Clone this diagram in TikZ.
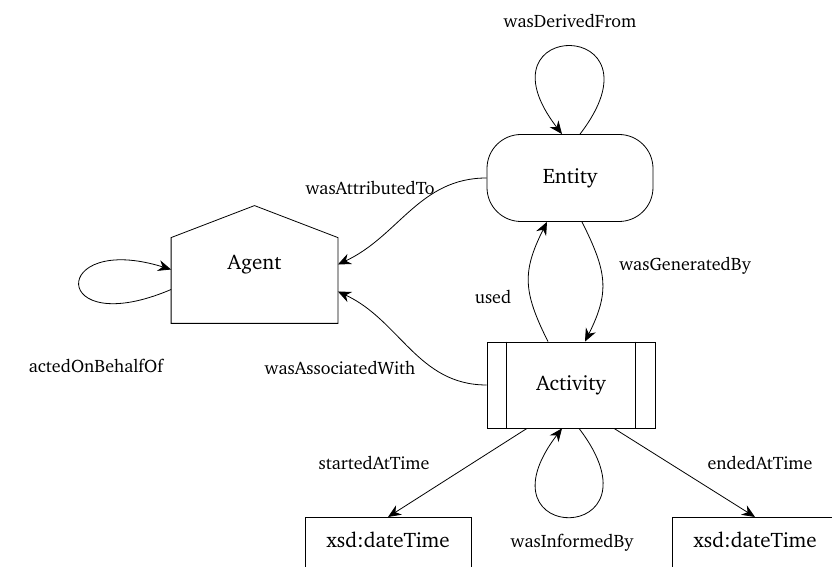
\documentclass[tikz,border=0pt]{standalone}
\usepackage[T1]{fontenc}
\usepackage{charter}
\usetikzlibrary{arrows.meta,calc}
\tikzset{
  flow/.style={-{Stealth[length=6.5pt,width=5.5pt]}},
  entitybox/.style={draw, rounded corners=17pt, minimum width=83pt, minimum height=43.5pt, font=\fontsize{10.5}{12}\selectfont},
  agentbox/.style={minimum width=83pt, minimum height=58.5pt, font=\fontsize{10.5}{12}\selectfont},
  activitybox/.style={draw, minimum width=84pt, minimum height=43pt, font=\fontsize{10.5}{12}\selectfont},
  timebox/.style={draw, anchor=north, minimum width=83pt, inner ysep=3.3pt, text height=11.9pt, text depth=20pt, font=\fontsize{10.5}{12}\selectfont},
  rel/.style={font=\fontsize{9}{11}\selectfont}
}
\begin{document}
\begin{tikzpicture}[x=0.5pt,y=0.5pt]
\useasboundingbox (0,0) rectangle (832,567);
\clip (0,0) rectangle (832,567);

\node[entitybox] (entity) at (570,389) {Entity};
\node[agentbox] (agent) at (254.5,302.5) {Agent};
\draw (agent.south west) -- ($(agent.north west)+(0,-32)$) -- (agent.north)
      -- ($(agent.north east)+(0,-32)$) -- (agent.south east) -- cycle;
\node[activitybox] (activity) at (571,182) {Activity};
\draw ([xshift=10pt]activity.north west) -- ([xshift=10pt]activity.south west);
\draw ([xshift=-10pt]activity.north east) -- ([xshift=-10pt]activity.south east);
\node[timebox] (dtstart) at (388,50) {xsd:dateTime};
\node[timebox] (dtend) at (755,50) {xsd:dateTime};

\draw[flow] ($(entity.north)+(10,0)$) .. controls +(90,117) and +(-90,117) .. ($(entity.north)+(-8,0)$);
\draw[flow] (entity.west) to[out=180,in=25] (agent.east);
\draw[flow] ($(entity.south)+(12,0)$) .. controls +(25,-50) and +(25,50) .. ($(activity.north)+(14,0)$);
\draw[flow] ($(activity.north)+(-23,0)$) .. controls +(-25,50) and +(-25,-50) .. ($(entity.south)+(-23,0)$);
\draw[flow] (activity.west) to[out=180,in=-25] ($(agent.east)+(0,-27)$);
\draw[flow] ($(agent.west)+(0,-25)$) .. controls +(-122,-52) and +(-122,38) .. ($(agent.west)+(0,-5)$);
\draw[flow] ($(activity.south)+(-44,0)$) -- (dtstart.north);
\draw[flow] ($(activity.south)+(43,0)$) -- (dtend.north);
\draw[flow] ($(activity.south)+(8,0)$) .. controls +(90,-118) and +(-90,-118) .. ($(activity.south)+(-9,0)$);

\node[rel] (lderived) at (570,546) {wasDerivedFrom};
\node[rel] (lattributed) at (370,379) {wasAttributedTo};
\node[rel] (lgenerated) at (685,301) {wasGeneratedBy};
\node[rel] (lused) at (493,270) {used};
\node[rel] (lassociated) at (340,199) {wasAssociatedWith};
\node[rel] (lbehalf) at (96,201) {actedOnBehalfOf};
\node[rel] (lstarted) at (374,104) {startedAtTime};
\node[rel] (lended) at (760,104) {endedAtTime};
\node[rel] (linformed) at (572,24) {wasInformedBy};
\end{tikzpicture}
\end{document}
